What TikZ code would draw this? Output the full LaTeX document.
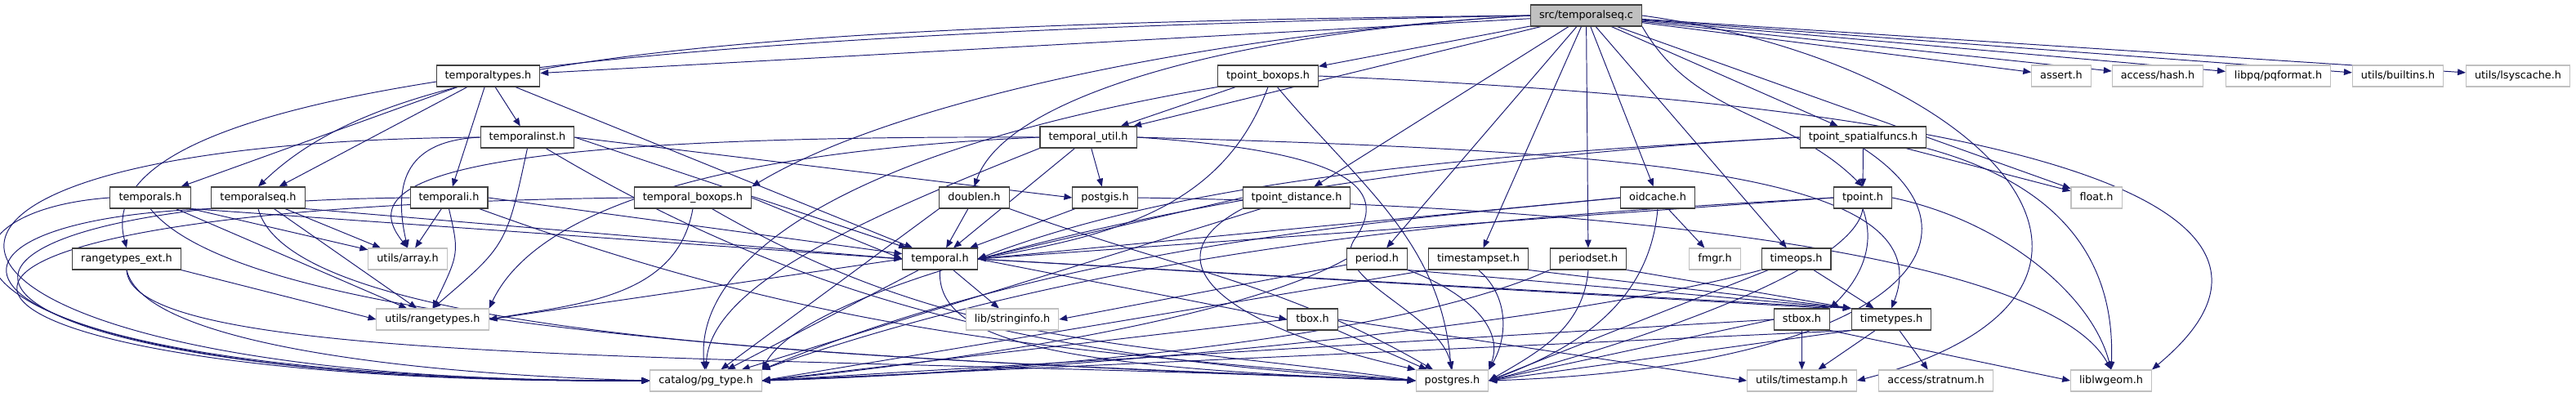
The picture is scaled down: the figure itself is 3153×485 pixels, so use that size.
\documentclass[tikz,border=0pt]{standalone}
\usepackage{fontspec}
\setmainfont{DejaVu Sans}
\usetikzlibrary{arrows.meta}
\definecolor{edgeblue}{HTML}{191970}
\definecolor{framedark}{HTML}{404040}
\definecolor{framelight}{HTML}{C0C0C0}
\pgfdeclarelayer{background}
\pgfsetlayers{background,main}
\tikzset{
  hfile/.style={draw=framedark,fill=white,line width=0.6pt,inner xsep=6pt,inner ysep=0pt,
    minimum height=0.52cm,text height=5.6pt,text depth=1.6pt,font=\fontsize{7.3}{9}\selectfont},
  sysfile/.style={hfile,draw=framelight},
  srcfile/.style={hfile,fill=framelight},
  dep/.style={draw=edgeblue,line width=0.55pt,-{Triangle[length=5.6pt,width=4.4pt]}},
}
\begin{document}
\begin{tikzpicture}[x=0.02cm,y=-0.02cm]
\useasboundingbox (0,0) rectangle (3153,485);
\node[srcfile] (src) at (1941.5,19) {src/temporalseq.c};
\node[hfile] (ttypes) at (597.5,93) {temporaltypes.h};
\node[hfile] (tpbox) at (1552,93) {tpoint\_boxops.h};
\node[sysfile] (assert) at (2523,93) {assert.h};
\node[sysfile] (hash) at (2641,93) {access/hash.h};
\node[sysfile] (pqfmt) at (2788.5,93) {libpq/pqformat.h};
\node[sysfile] (builtins) at (2935,93) {utils/builtins.h};
\node[sysfile] (lsys) at (3082,93) {utils/lsyscache.h};
\node[hfile] (tinst) at (645.5,168) {temporalinst.h};
\node[hfile] (tutil) at (1332,168) {temporal\_util.h};
\node[hfile] (tpsf) at (2280.5,168) {tpoint\_spatialfuncs.h};
\node[hfile] (temporals) at (184,242) {temporals.h};
\node[hfile] (tseq) at (316,242) {temporalseq.h};
\node[hfile] (temporali) at (549.5,242) {temporali.h};
\node[hfile] (tboxops) at (848,242) {temporal\_boxops.h};
\node[hfile] (doublen) at (1192.5,242) {doublen.h};
\node[hfile] (postgis) at (1352.5,242) {postgis.h};
\node[hfile] (tpdist) at (1587,242) {tpoint\_distance.h};
\node[hfile] (oidcache) at (2029,242) {oidcache.h};
\node[hfile] (tpoint) at (2280,242) {tpoint.h};
\node[sysfile] (float) at (2566,242) {float.h};
\node[hfile] (rtext) at (155,317) {rangetypes\_ext.h};
\node[sysfile] (array) at (499,317) {utils/array.h};
\node[hfile] (temporal) at (1150.5,317) {temporal.h};
\node[hfile] (period) at (1685.5,317) {period.h};
\node[hfile] (tsset) at (1809.5,317) {timestampset.h};
\node[hfile] (pset) at (1944,317) {periodset.h};
\node[sysfile] (fmgr) at (2099,317) {fmgr.h};
\node[hfile] (timeops) at (2198.5,317) {timeops.h};
\node[sysfile] (rtypes) at (529.5,391) {utils/rangetypes.h};
\node[sysfile] (strinfo) at (1239,391) {lib/stringinfo.h};
\node[hfile] (tbox) at (1606.5,391) {tbox.h};
\node[hfile] (stbox) at (2205.5,391) {stbox.h};
\node[hfile] (timetypes) at (2315,391) {timetypes.h};
\node[sysfile] (pgtype) at (864,466) {catalog/pg\_type.h};
\node[sysfile] (postgres) at (1777.5,466) {postgres.h};
\node[sysfile] (timestamp) at (2205.5,466) {utils/timestamp.h};
\node[sysfile] (stratnum) at (2369.5,466) {access/stratnum.h};
\node[sysfile] (lwgeom) at (2584,466) {liblwgeom.h};
\begin{pgfonlayer}{background}
\draw[dep] (src) -- (ttypes);
\draw[dep] (src) -- (tpbox);
\draw[dep] (src) -- (assert);
\draw[dep] (src) -- (hash);
\draw[dep] (src) -- (pqfmt);
\draw[dep] (src) -- (builtins);
\draw[dep] (src) -- (lsys);
\draw[dep] (src) -- (tutil);
\draw[dep] (src) -- (tpsf);
\draw[dep] (src.west) .. controls (800,30) and (470,80) .. (tseq.north);
\draw[dep] (src.west) .. controls (800,40) and (100,100) .. (rtext.north);
\draw[dep] (src.west) .. controls (1500,40) and (1100,120) .. (tboxops.north east);
\draw[dep] (src.west) .. controls (1500,40) and (1230,120) .. (doublen.north);
\draw[dep] (src) -- (tpdist);
\draw[dep] (src) -- (period);
\draw[dep] (src) -- (tsset);
\draw[dep] (src) -- (pset);
\draw[dep] (src) -- (oidcache);
\draw[dep] (src) -- (timeops);
\draw[dep] (src.south east) to[out=-60,in=135] (tpoint.north);
\draw[dep] (src) -- (float);
\draw[dep] (src.east) .. controls (2450,80) and (2680,360) .. (timestamp.east);
\draw[dep] (ttypes) -- (temporals);
\draw[dep] (ttypes) -- (tseq);
\draw[dep] (ttypes) -- (temporali);
\draw[dep] (ttypes) -- (tinst);
\draw[dep] (ttypes) -- (temporal);
\draw[dep] (tinst.west) .. controls (500,172) and (480,220) .. (array.north);
\draw[dep] (tinst.south) .. controls (620,300) .. (rtypes.north);
\draw[dep] (tinst.west) .. controls (-280,175) and (-150,470) .. (pgtype.west);
\draw[dep] (tinst) .. controls (1000,380) and (1300,440) .. (postgres.west);
\draw[dep] (tinst.east) -- (temporal);
\draw[dep] (tinst.east) -- (postgis.west);
\draw[dep] (temporali) -- (array);
\draw[dep] (temporali.south) .. controls (562,310) .. (rtypes.north);
\draw[dep] (temporali.west) .. controls (-220,250) and (-130,470) .. (pgtype.west);
\draw[dep] (temporali) to[out=-20,in=175] (postgres.west);
\draw[dep] (temporali.east) -- (temporal);
\draw[dep] (tseq) -- (array);
\draw[dep] (tseq) -- (rtypes);
\draw[dep] (tseq.south west) .. controls (-160,270) and (-100,465) .. (pgtype.west);
\draw[dep] (tseq.south) .. controls (360,420) and (1100,440) .. (postgres.west);
\draw[dep] (tseq.south east) -- (temporal.west);
\draw[dep] (temporals.south east) -- (array);
\draw[dep] (temporals) -- (rtypes);
\draw[dep] (temporals.west) .. controls (-120,260) and (-120,470) .. (pgtype.west);
\draw[dep] (temporals.south) .. controls (300,400) and (1000,440) .. (postgres.west);
\draw[dep] (temporals.south east) -- (temporal.west);
\draw[dep] (rtext.south east) -- (rtypes.west);
\draw[dep] (rtext.south) .. controls (175,420) and (500,458) .. (pgtype.west);
\draw[dep] (rtext.south) .. controls (160,450) and (900,432) .. (postgres.west);
\draw[dep] (tboxops.south) to[out=-100,in=10] (rtypes.east);
\draw[dep] (tboxops.west) .. controls (-330,255) and (-130,472) .. (pgtype.west);
\draw[dep] (tboxops) to[out=-30,in=172] (postgres.west);
\draw[dep] (tboxops.east) -- (temporal.west);
\draw[dep] (tpbox) -- (tutil);
\draw[dep] (tpbox.south) to[out=-110,in=10] (temporal.east);
\draw[dep] (tpbox.south west) .. controls (1000,190) and (850,330) .. (pgtype);
\draw[dep] (tpbox) to[out=-50,in=95] (postgres);
\draw[dep] (tpbox.east) .. controls (2950,150) and (2720,380) .. (lwgeom.north east);
\draw[dep] (tutil.west) .. controls (500,165) and (440,230) .. (array.north);
\draw[dep] (tutil.west) .. controls (780,190) and (640,290) .. (rtypes.north east);
\draw[dep] (tutil.south west) .. controls (1050,270) and (870,350) .. (pgtype.north);
\draw[dep] (tutil) -- (temporal);
\draw[dep] (tutil) -- (postgis);
\draw[dep] (tutil.east) .. controls (2000,185) and (2380,210) .. (timetypes.north);
\draw[dep] (tutil.east) .. controls (1650,185) and (1700,230) .. (1660,290)
  .. controls (1620,340) and (1760,380) .. (postgres.north);
\draw[dep] (doublen) -- (temporal);
\draw[dep] (doublen.south west) -- (pgtype);
\draw[dep] (doublen.south east) to[out=-20,in=150] (postgres);
\draw[dep] (postgis) -- (temporal);
\draw[dep] (postgis.east) .. controls (1900,250) and (2500,300) .. (lwgeom.north);
\draw[dep] (tpdist.west) -- (temporal.east);
\draw[dep] (tpdist) -- (pgtype);
\draw[dep] (tpdist.south west) .. controls (1400,320) and (1500,400) .. (postgres.north west);
\draw[dep] (oidcache) -- (fmgr);
\draw[dep] (oidcache.south) to[out=-95,in=20] (postgres.east);
\draw[dep] (oidcache.west) -- (temporal.east);
\draw[dep] (oidcache.west) .. controls (1700,270) and (1300,300) .. (pgtype.north east);
\draw[dep] (tpsf) -- (tpoint);
\draw[dep] (tpsf) -- (float);
\draw[dep] (tpsf.south east) .. controls (2500,220) and (2590,300) .. (lwgeom.north);
\draw[dep] (tpsf.west) .. controls (1800,190) and (1450,220) .. (temporal.east);
\draw[dep] (tpsf.west) .. controls (1600,200) and (1000,330) .. (pgtype.north east);
\draw[dep] (tpsf.south) .. controls (2460,300) and (2300,450) .. (postgres.east);
\draw[dep] (tpoint.west) -- (temporal.east);
\draw[dep] (tpoint.west) .. controls (1900,262) and (1400,290) .. (pgtype.north east);
\draw[dep] (tpoint.south) to[out=-70,in=45] (stbox.north east);
\draw[dep] (tpoint.south) .. controls (2270,330) and (2000,420) .. (postgres.east);
\draw[dep] (tpoint.east) .. controls (2450,270) and (2560,360) .. (lwgeom.north);
\draw[dep] (period.west) .. controls (1500,400) and (1100,450) .. (pgtype.east);
\draw[dep] (period.south east) to[out=-20,in=70] (postgres.north east);
\draw[dep] (period.south east) -- (timetypes.north west);
\draw[dep] (period) -- (strinfo.east);
\draw[dep] (tsset.south west) -- (pgtype.east);
\draw[dep] (tsset.south) to[out=-40,in=60] (postgres.north east);
\draw[dep] (tsset.south east) -- (timetypes.north west);
\draw[dep] (pset.south west) .. controls (1700,420) and (1200,458) .. (pgtype.east);
\draw[dep] (pset.south) to[out=-95,in=30] (postgres.east);
\draw[dep] (pset.south east) -- (timetypes.north west);
\draw[dep] (timeops.south west) .. controls (1900,400) and (1300,455) .. (pgtype.east);
\draw[dep] (timeops) -- (postgres.east);
\draw[dep] (timeops) -- (timetypes);
\draw[dep] (temporal.south) .. controls (1145,420) and (1300,450) .. (postgres.west);
\draw[dep] (temporal) -- (strinfo);
\draw[dep] (temporal.east) -- (tbox.west);
\draw[dep] (temporal.west) -- (rtypes.east);
\draw[dep] (temporal) -- (pgtype);
\draw[dep] (temporal.east) -- (timetypes.north west);
\draw[dep] (temporal.east) -- (stbox.north east);
\draw[dep] (tbox.west) -- (pgtype.east);
\draw[dep] (tbox) -- (postgres);
\draw[dep] (tbox.east) -- (timestamp.west);
\draw[dep] (stbox) -- (timestamp);
\draw[dep] (stbox.south east) -- (lwgeom.west);
\draw[dep] (stbox.west) -- (pgtype.east);
\draw[dep] (stbox.west) -- (postgres.east);
\draw[dep] (timetypes) -- (timestamp);
\draw[dep] (timetypes) -- (stratnum);
\draw[dep] (timetypes.south west) -- (pgtype.east);
\draw[dep] (timetypes.south west) -- (postgres.east);
\end{pgfonlayer}
\end{tikzpicture}
\end{document}
